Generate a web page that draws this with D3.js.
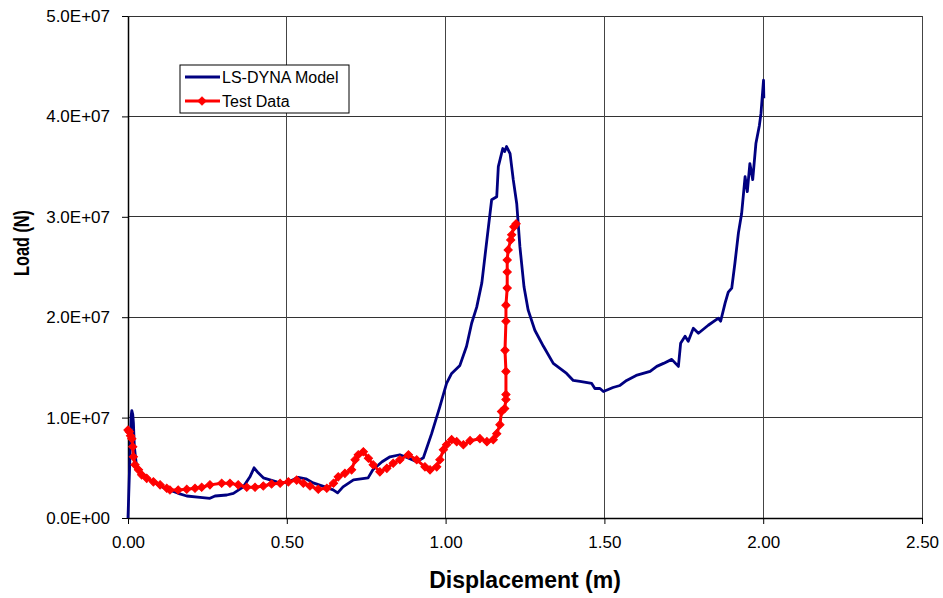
<!DOCTYPE html>
<html>
<head>
<meta charset="utf-8">
<script src="https://cdn.jsdelivr.net/npm/d3@7"></script>
<style>
  body { margin: 0; background: #fff; }
  text { font-family: "Liberation Sans", Arial, sans-serif; }
</style>
</head>
<body>
<script>
// margins of the plot area inside the 943x598 page
const margins = { left: 128, right: 21, top: 16, bottom: 80 }
const width = 943
const height = 598

// LS-DYNA model curve (displacement in m, load in MN)
const modelDisp = [0.000, 0.005, 0.010, 0.012, 0.015, 0.017, 0.020, 0.027, 0.040, 0.060, 0.080, 0.100, 0.130, 0.158, 0.185, 0.227, 0.258, 0.274, 0.311, 0.332, 0.363, 0.384, 0.397, 0.410, 0.426, 0.468, 0.500, 0.536, 0.560, 0.583, 0.620, 0.646, 0.660, 0.677, 0.710, 0.756, 0.771, 0.800, 0.825, 0.856, 0.880, 0.909, 0.930, 0.956, 0.982, 1.003, 1.019, 1.045, 1.066, 1.082, 1.098, 1.114, 1.130, 1.145, 1.161, 1.166, 1.180, 1.186, 1.192, 1.203, 1.213, 1.224, 1.234, 1.247, 1.260, 1.281, 1.308, 1.339, 1.381, 1.402, 1.423, 1.460, 1.470, 1.486, 1.497, 1.527, 1.549, 1.570, 1.600, 1.644, 1.665, 1.686, 1.712, 1.733, 1.740, 1.754, 1.764, 1.780, 1.796, 1.827, 1.859, 1.866, 1.880, 1.890, 1.901, 1.911, 1.922, 1.932, 1.943, 1.950, 1.958, 1.967, 1.977, 1.988, 1.993, 2.001, 2.002]
const modelLoad = [0, 5.0, 10.2, 10.7, 10.3, 9.5, 7.1, 5.1, 4.5, 4.0, 3.6, 3.2, 2.8, 2.46, 2.19, 2.06, 1.96, 2.19, 2.29, 2.46, 3.1, 4.1, 5.0, 4.5, 4.0, 3.6, 3.5, 4.05, 3.9, 3.5, 3.1, 2.8, 2.5, 3.1, 3.8, 4.0, 4.8, 5.6, 6.1, 6.3, 6.0, 5.6, 6.0, 8.4, 11.1, 13.4, 14.4, 15.2, 17.1, 19.4, 21.0, 23.4, 27.7, 31.7, 32.0, 35.0, 36.8, 36.5, 37.0, 36.3, 33.7, 31.3, 27.0, 23.0, 20.7, 18.7, 17.1, 15.4, 14.4, 13.7, 13.6, 13.4, 12.9, 12.9, 12.6, 13.0, 13.2, 13.7, 14.2, 14.6, 15.1, 15.4, 15.8, 15.1, 17.4, 18.1, 17.6, 18.9, 18.4, 19.2, 19.9, 19.6, 21.4, 22.5, 22.9, 25.4, 28.4, 30.3, 34.0, 32.5, 35.3, 33.7, 37.3, 39.1, 40.3, 43.6, 41.8]

// test data (displacement in m, load in MN)
const testDisp = [0.000, 0.004, 0.008, 0.012, 0.015, 0.017, 0.022, 0.033, 0.043, 0.059, 0.080, 0.101, 0.122, 0.132, 0.158, 0.185, 0.211, 0.232, 0.258, 0.295, 0.321, 0.347, 0.374, 0.400, 0.426, 0.452, 0.479, 0.505, 0.531, 0.552, 0.573, 0.599, 0.626, 0.647, 0.662, 0.683, 0.704, 0.715, 0.725, 0.741, 0.757, 0.772, 0.793, 0.815, 0.835, 0.856, 0.883, 0.909, 0.935, 0.951, 0.972, 0.982, 0.993, 1.003, 1.019, 1.035, 1.056, 1.077, 1.108, 1.130, 1.150, 1.161, 1.171, 1.176, 1.186, 1.190, 1.190, 1.190, 1.187, 1.190, 1.190, 1.194, 1.194, 1.194, 1.197, 1.205, 1.208, 1.215, 1.222]
const testLoad = [8.76, 8.6, 8.2, 7.9, 7.1, 6.1, 5.3, 4.8, 4.3, 3.95, 3.6, 3.3, 2.96, 2.79, 2.79, 2.86, 2.96, 3.06, 3.3, 3.46, 3.46, 3.3, 3.06, 3.06, 3.19, 3.39, 3.46, 3.6, 3.78, 3.46, 3.19, 2.86, 2.96, 3.46, 4.1, 4.45, 4.8, 5.8, 6.3, 6.6, 5.95, 5.3, 4.6, 4.95, 5.45, 5.8, 6.3, 5.8, 5.1, 4.8, 5.1, 5.8, 6.8, 7.3, 7.8, 7.6, 7.3, 7.7, 7.9, 7.6, 7.8, 8.4, 9.3, 10.6, 10.9, 11.8, 12.3, 14.6, 16.7, 19.6, 21.2, 22.9, 24.5, 25.7, 26.7, 27.7, 28.2, 29.0, 29.3]

// axis ticks
const xTicks = [0, 0.5, 1.0, 1.5, 2.0, 2.5]
const yTicks = [0, 10, 20, 30, 40, 50]
const seriesNames = ["LS-DYNA Model", "Test Data"]

const modelColor = "#000080"
const testColor = "#ff0000"

const svg = d3.select("body")
    .append("svg")
    .attr("width", width)
    .attr("height", height)

const x = d3.scaleLinear().domain([0, 2.5]).range([margins.left, width - margins.right])
const y = d3.scaleLinear().domain([0, 50]).range([height - margins.bottom, margins.top])

// load in MN -> "5.0E+07" style label
function sciLabel(d) {
    if (d === 0) return "0.0E+00"
    const v = d * 1e6
    const e = Math.floor(Math.log10(v))
    return (v / Math.pow(10, e)).toFixed(1) + "E+" + String(e).padStart(2, "0")
}

// gridlines
svg.append("g")
    .selectAll("line")
    .data(yTicks)
    .enter()
    .append("line")
    .attr("x1", x(0)).attr("x2", x(2.5))
    .attr("y1", d => y(d)).attr("y2", d => y(d))
    .attr("stroke", "#333")
    .attr("stroke-width", 1)
    .attr("shape-rendering", "crispEdges")

svg.append("g")
    .selectAll("line")
    .data(xTicks)
    .enter()
    .append("line")
    .attr("x1", d => x(d)).attr("x2", d => x(d))
    .attr("y1", y(0)).attr("y2", y(50))
    .attr("stroke", "#444")
    .attr("stroke-width", 1)
    .attr("shape-rendering", "crispEdges")

// axes
const xAxis = svg.append("g")
    .attr("transform", "translate(0," + y(0) + ")")
    .call(d3.axisBottom(x).tickValues(xTicks).tickFormat(d3.format(".2f")).tickSize(6).tickSizeOuter(0).tickPadding(12))
xAxis.selectAll("text").style("font-size", "17px").attr("fill", "#000")

const yAxis = svg.append("g")
    .attr("transform", "translate(" + x(0) + ",0)")
    .call(d3.axisLeft(y).tickValues(yTicks).tickFormat(sciLabel).tickSize(6).tickSizeOuter(0).tickPadding(12))
yAxis.selectAll("text").style("font-size", "17px").attr("fill", "#000")
svg.selectAll(".domain").attr("stroke", "#000").attr("stroke-width", 1.5)

// axis titles
svg.append("text")
    .attr("x", (x(0) + x(2.5)) / 2)
    .attr("y", 588)
    .attr("text-anchor", "middle")
    .style("font-size", "23px")
    .style("font-weight", "bold")
    .text("Displacement (m)")

svg.append("text")
    .attr("transform", "translate(29,243) rotate(-90) scale(0.74,1)")
    .attr("text-anchor", "middle")
    .style("font-size", "22px")
    .style("font-weight", "bold")
    .text("Load  (N)")

// lines
const line = d3.line()
    .x(d => x(d[0]))
    .y(d => y(d[1]))

const modelData = modelDisp.map((d, i) => [d, modelLoad[i]])
const testData = testDisp.map((d, i) => [d, testLoad[i]])

svg.append("path")
    .datum(modelData)
    .attr("d", line)
    .attr("fill", "none")
    .attr("stroke", modelColor)
    .attr("stroke-width", 2.8)
    .attr("stroke-linejoin", "round")

svg.append("path")
    .datum(testData)
    .attr("d", line)
    .attr("fill", "none")
    .attr("stroke", testColor)
    .attr("stroke-width", 3)
    .attr("stroke-linejoin", "round")

const diamond = d3.symbol().type(d3.symbolSquare).size(34)

svg.append("g")
    .selectAll("path")
    .data(testData)
    .enter()
    .append("path")
    .attr("d", diamond)
    .attr("transform", d => "translate(" + x(d[0]) + "," + y(d[1]) + ") rotate(45)")
    .attr("fill", testColor)
    .attr("stroke", testColor)
    .attr("stroke-width", 1)

// legend
const legend = svg.append("g").attr("transform", "translate(180,65)")
legend.append("rect")
    .attr("width", 169).attr("height", 48)
    .attr("fill", "#fff").attr("stroke", "#000").attr("stroke-width", 1)

const legendColors = [modelColor, testColor]
seriesNames.forEach(function (name, i) {
    const ly = 12 + i * 24
    legend.append("line")
        .attr("x1", 5).attr("x2", 40)
        .attr("y1", ly).attr("y2", ly)
        .attr("stroke", legendColors[i]).attr("stroke-width", 2.8)
    if (i === 1) {
        legend.append("path")
            .attr("d", diamond)
            .attr("transform", "translate(22," + ly + ") rotate(45)")
            .attr("fill", testColor)
            .attr("stroke", testColor)
    }
    legend.append("text")
        .attr("x", 42).attr("y", ly + 6)
        .style("font-size", "16px")
        .text(name)
})
</script>
</body>
</html>
